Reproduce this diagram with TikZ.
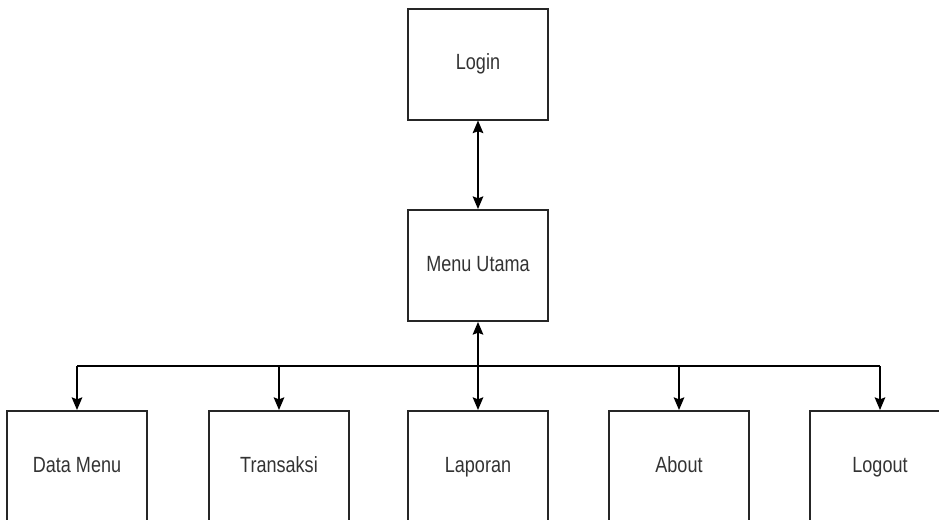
\documentclass[tikz,border=0pt]{standalone}
\usepackage{fontspec}
\newfontfamily\boxfont{Liberation Sans}[FakeStretch=0.82]
\usetikzlibrary{arrows.meta}

\begin{document}
\begin{tikzpicture}[x=0.75pt, y=-0.75pt,
  menubox/.style={draw=black!85, line width=1.5pt, minimum width=105pt,
    minimum height=83.25pt, inner sep=0pt, text height=12pt, text depth=3.5pt,
    font=\boxfont\fontsize{16.5}{18}\selectfont, text=black!80},
  link/.style={line width=1.1pt, -{Stealth[length=9.5pt,width=8pt,inset=1.5pt]}},
  twoway/.style={line width=1.1pt,
    {Stealth[length=9.5pt,width=8pt,inset=1.5pt]}-{Stealth[length=9.5pt,width=8pt,inset=1.5pt]}}]
\useasboundingbox (0,0) rectangle (939,519);
\clip (0,0) rectangle (939,519);

% top level
\node[menubox] (login) at (478,64) {Login};
\node[menubox] (utama) at (478,265.5) {Menu Utama};

% sub menus
\node[menubox] (datamenu) at (77,466.5) {Data Menu};
\node[menubox] (transaksi) at (279,466.5) {Transaksi};
\node[menubox] (laporan) at (478,466.5) {Laporan};
\node[menubox] (about) at (679,466.5) {About};
\node[menubox] (logout) at (880,466.5) {Logout};

\coordinate (bus) at (0,366);

\draw[twoway] (login) -- (utama);
\draw[twoway] (utama) -- (laporan);
\draw[line width=1.1pt] (datamenu.north |- bus) -- (logout.north |- bus);
\foreach \sub in {datamenu, transaksi, about, logout}
  \draw[link] (\sub.north |- bus) -- (\sub);
\end{tikzpicture}
\end{document}
